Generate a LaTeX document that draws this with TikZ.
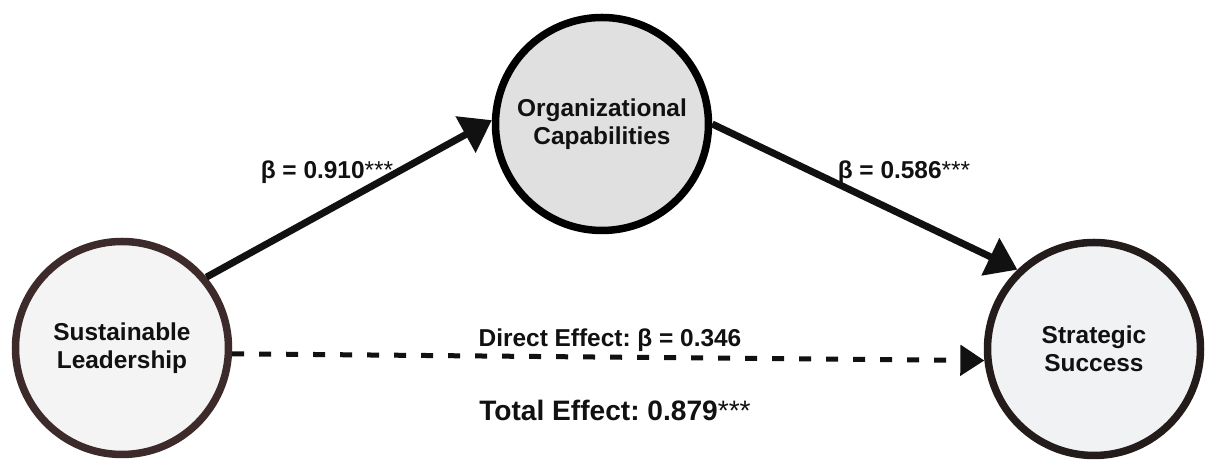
\documentclass[tikz,border=0pt]{standalone}
\usepackage{fontspec}
\setmainfont{Liberation Sans}
\usepackage{tikz}
\usetikzlibrary{arrows.meta}
\frenchspacing
\definecolor{SEMink}{HTML}{111111}
\definecolor{SEMbrown}{HTML}{3D2A2A}
\definecolor{SEMdark}{HTML}{241B1B}
\definecolor{SEMpale}{HTML}{F5F4F4}
\definecolor{SEMgrey}{HTML}{E0E0E0}
\definecolor{SEMcool}{HTML}{F1F2F4}
\tikzset{
  construct/.style={circle, line width=0.15cm, minimum size=4.26cm, inner sep=0pt, align=center, font=\fontsize{13.9}{16}\selectfont\bfseries, text=SEMink},
  patharr/.style={-{Triangle[length=0.6cm, width=0.8cm]}, line width=0.14cm, draw=SEMink},
  directarr/.style={-{Triangle[length=0.48cm, width=0.6cm]}, line width=0.1cm, dash pattern=on 0.24cm off 0.3cm, draw=SEMink},
  coeflabel/.style={font=\fontsize{13.9}{16}\selectfont\bfseries, text=SEMink, inner sep=0pt},
  totallabel/.style={font=\fontsize{16}{18}\selectfont\bfseries, text=SEMink, inner sep=0pt}
}
\newcommand{\sigstars}{{\mdseries ***}}

\begin{document}
\begin{tikzpicture}
  \useasboundingbox[fill=white] (0,0) rectangle (24.12,9.22);
  % the three constructs
  \node[construct, draw=SEMbrown, fill=SEMpale] (lead) at (2.44,2.26) {Sustainable\\Leadership};
  \node[construct, draw=black, fill=SEMgrey] (capab) at (12.04,6.74) {Organizational\\Capabilities};
  \node[construct, draw=SEMdark, fill=SEMcool] (succ) at (21.88,2.24) {Strategic\\Success};
  % paths
  \draw[patharr] (lead.40) -- (capab.178);
  \draw[patharr] (capab.0) -- (succ.134);
  \draw[directarr] (lead.-3) -- (succ.186);
  % coefficients
  \node[coeflabel] (b1) at (6.54,5.78) {β = 0.910\sigstars};
  \node[coeflabel] (b2) at (18.08,5.78) {β = 0.586\sigstars};
  \node[coeflabel] (direct) at (12.20,2.42) {Direct Effect: β = 0.346};
  \node[totallabel] (total) at (12.30,1.02) {Total Effect: 0.879\sigstars};
\end{tikzpicture}
\end{document}
